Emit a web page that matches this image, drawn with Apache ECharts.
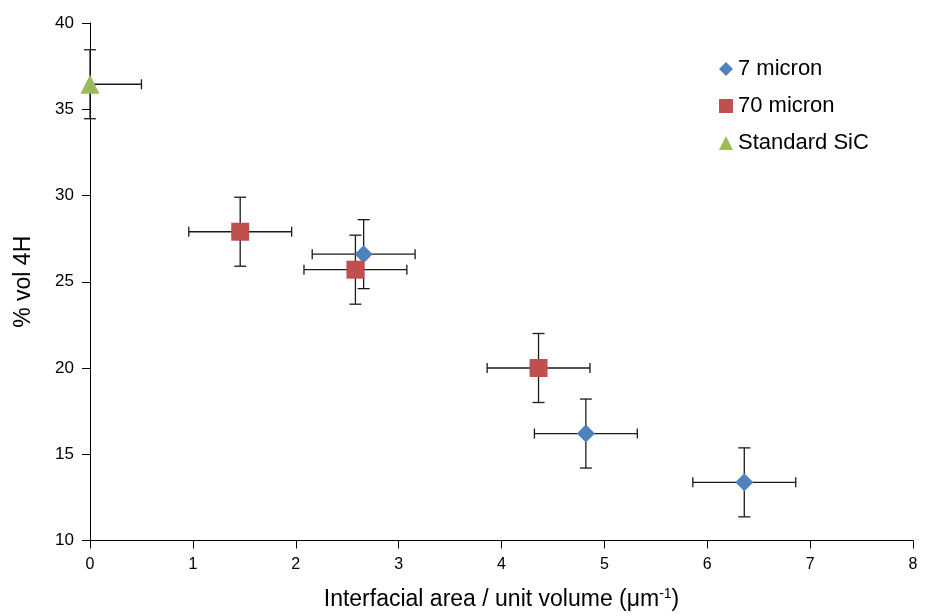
<!DOCTYPE html>
<html><head><meta charset="utf-8">
<script src="https://cdn.jsdelivr.net/npm/echarts@6/dist/echarts.min.js"></script>
<style>html,body{margin:0;padding:0;background:#fff}#c{width:934px;height:616px}</style>
</head><body><div id="c"></div>
<script>
// Data
const sevenX = [2.66, 4.82, 6.36];
const sevenY = [26.6, 16.2, 13.37];
const sevenXErr = [0.5, 0.5, 0.5];
const sevenYErr = [2, 2, 2];

const seventyX = [1.46, 2.58, 4.36];
const seventyY = [27.9, 25.7, 20.0];
const seventyXErr = [0.5, 0.5, 0.5];
const seventyYErr = [2, 2, 2];

const sicX = [0];
const sicY = [36.45];
const sicXErr = [0.5];
const sicYErr = [2];

const seriesNames = ['7 micron', '70 micron', 'Standard SiC'];
const xTicks = [0, 1, 2, 3, 4, 5, 6, 7, 8];
const yTicks = [10, 15, 20, 25, 30, 35, 40];

const X_MIN = 0, X_MAX = 8, Y_MIN = 10, Y_MAX = 40;

function pts(xs, ys) { return xs.map((x, i) => [x, ys[i]]); }
function errData(xs, ys, xe, ye) {
  return xs.map((x, i) => [x, ys[i],
    Math.max(x - xe[i], X_MIN), Math.min(x + xe[i], X_MAX),
    Math.max(ys[i] - ye[i], Y_MIN), Math.min(ys[i] + ye[i], Y_MAX)]);
}
const allErr = [].concat(
  errData(sevenX, sevenY, sevenXErr, sevenYErr),
  errData(seventyX, seventyY, seventyXErr, seventyYErr),
  errData(sicX, sicY, sicXErr, sicYErr)
);

const chart = echarts.init(document.getElementById('c'));
const lineStyle = { stroke: '#1a1a1a', lineWidth: 1.3 };
const CAP = 6;
const FONT = 'Liberation Sans, Arial';

chart.setOption({
  animation: false,
  backgroundColor: '#fff',
  grid: { left: 90, right: 21, top: 23, bottom: 73, containLabel: false },
  legend: {
    orient: 'vertical', left: 714, top: 53, itemGap: 15,
    itemWidth: 14, itemHeight: 14,
    data: seriesNames,
    textStyle: { fontFamily: FONT, fontSize: 22, color: '#000' }
  },
  xAxis: {
    type: 'value', min: X_MIN, max: X_MAX, interval: 1,
    name: '{a|Interfacial area / unit volume (μm}{s|-1}{a|)}',
    nameLocation: 'middle', nameGap: 47,
    nameTextStyle: { rich: {
      a: { fontFamily: FONT, fontSize: 23, color: '#000' },
      s: { fontFamily: FONT, fontSize: 14, color: '#000', padding: [0, 0, 10, 0] }
    } },
    axisLine: { lineStyle: { color: '#000', width: 1 } },
    axisTick: { show: true, inside: false, length: 8, lineStyle: { color: '#000' } },
    axisLabel: { fontFamily: FONT, fontSize: 16, color: '#000', margin: 16,
      formatter: v => xTicks.includes(v) ? String(v) : '' },
    splitLine: { show: false }
  },
  yAxis: {
    type: 'value', min: Y_MIN, max: Y_MAX, interval: 5,
    name: '% vol 4H', nameLocation: 'middle', nameGap: 55, nameRotate: 90,
    nameTextStyle: { fontFamily: FONT, fontSize: 23, color: '#000' },
    axisLine: { show: true, lineStyle: { color: '#000', width: 1 } },
    axisTick: { show: true, inside: false, length: 8, lineStyle: { color: '#000' } },
    axisLabel: { fontFamily: FONT, fontSize: 17, color: '#000', margin: 16,
      formatter: v => yTicks.includes(v) ? String(v) : '' },
    splitLine: { show: false }
  },
  series: [
    {
      type: 'custom', name: 'errors', z: 1, silent: true,
      data: allErr,
      renderItem: function (params, api) {
        const x = api.value(0), y = api.value(1);
        const xl = api.value(2), xh = api.value(3), yl = api.value(4), yh = api.value(5);
        const c = api.coord([x, y]);
        const pxl = api.coord([xl, y]), pxh = api.coord([xh, y]);
        const pyl = api.coord([x, yl]), pyh = api.coord([x, yh]);
        const L = (x1, y1, x2, y2) => ({ type: 'line', shape: { x1, y1, x2, y2 }, style: lineStyle });
        return { type: 'group', children: [
          L(pxl[0], c[1], pxh[0], c[1]),
          L(pxl[0], c[1] - CAP + 1, pxl[0], c[1] + CAP - 1),
          L(pxh[0], c[1] - CAP + 1, pxh[0], c[1] + CAP - 1),
          L(c[0], pyl[1], c[0], pyh[1]),
          L(c[0] - CAP, pyl[1], c[0] + CAP, pyl[1]),
          L(c[0] - CAP, pyh[1], c[0] + CAP, pyh[1])
        ] };
      }
    },
    { type: 'scatter', name: seriesNames[0], symbol: 'diamond', symbolSize: 18, z: 3,
      itemStyle: { color: '#4F81BD', opacity: 1 }, data: pts(sevenX, sevenY) },
    { type: 'scatter', name: seriesNames[1], symbol: 'rect', symbolSize: 18, z: 4,
      itemStyle: { color: '#C0504D', opacity: 1 }, data: pts(seventyX, seventyY) },
    { type: 'scatter', name: seriesNames[2], symbol: 'triangle', symbolSize: [19, 19], z: 4,
      itemStyle: { color: '#9BBB59', opacity: 1 }, data: pts(sicX, sicY) }
  ]
});
</script>
</body></html>
